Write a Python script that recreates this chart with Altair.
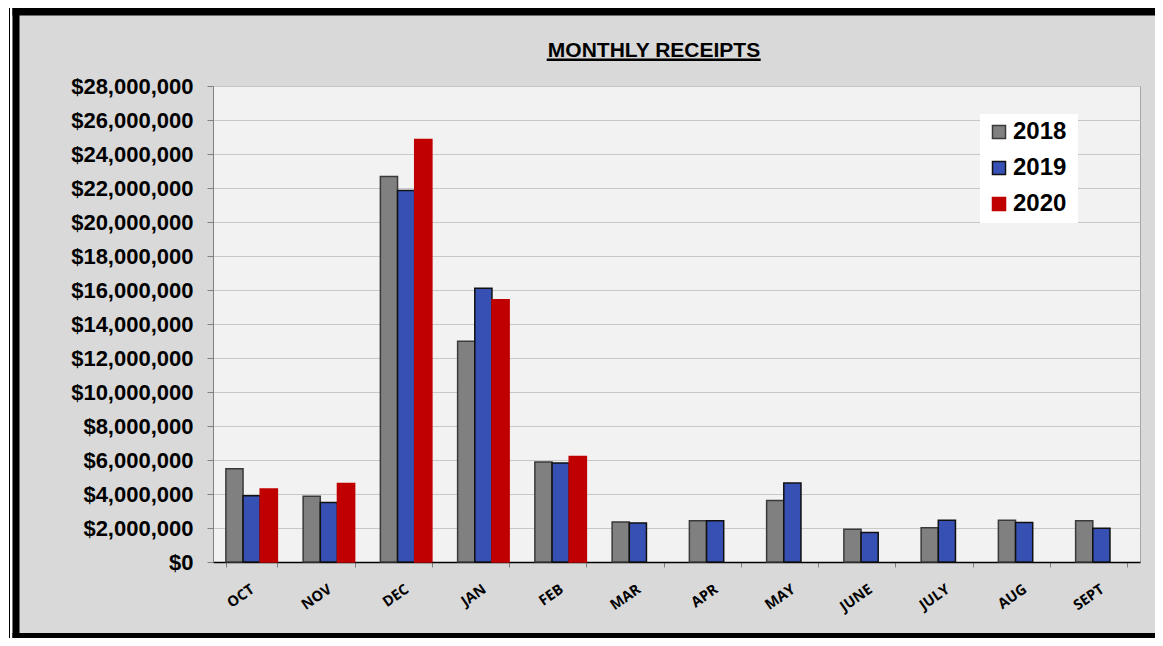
import altair as alt
import pandas as pd

months = ["OCT", "NOV", "DEC", "JAN", "FEB", "MAR", "APR", "MAY", "JUNE", "JULY", "AUG", "SEPT"]
years = ["2018", "2019", "2020"]
receipts_2018 = [5480000, 3870000, 22680000, 12990000, 5880000, 2360000, 2420000, 3620000, 1930000, 2020000, 2460000, 2420000]
receipts_2019 = [3890000, 3500000, 21850000, 16100000, 5820000, 2300000, 2420000, 4640000, 1730000, 2460000, 2320000, 1990000]
receipts_2020 = [4300000, 4620000, 24860000, 15430000, 6210000, None, None, None, None, None, None, None]
fill_colors = ["#808080", "#3650B4", "#C00000"]
stroke_colors = ["#3a3a3a", "#101010", "#C00000"]

rows = []
for yr, vals in zip(years, [receipts_2018, receipts_2019, receipts_2020]):
    for m, v in zip(months, vals):
        if v is not None:
            rows.append({"month": m, "year": yr, "value": v})
df = pd.DataFrame(rows)

W, H = 927, 476

legend_props = dict(
    orient="none", legendX=774, legendY=34, title=None, padding=0,
    symbolType="square", symbolSize=169, symbolStrokeWidth=1.5,
    labelFont="Liberation Sans", labelFontWeight="bold", labelFontSize=24,
    labelColor="black", labelOffset=2, rowPadding=12,
)

bars = alt.Chart(df).mark_bar(strokeWidth=1.5).encode(
    x=alt.X("month:N", sort=months,
            scale=alt.Scale(paddingInner=1/3, paddingOuter=1/6),
            axis=alt.Axis(title=None, labelAngle=-35, labelAlign="right", labelBaseline="top",
                          labelFont="Open Sans", labelFontWeight="bold", labelFontSize=14.5,
                          labelColor="black", tickBand="extent", tickColor="#808080",
                          tickSize=5, domainColor="black", domainWidth=1.5, labelPadding=15,
                          labelOffset=-3, grid=False)),
    xOffset=alt.XOffset("year:N", scale=alt.Scale(domain=years, paddingInner=0, paddingOuter=0)),
    y=alt.Y("value:Q", scale=alt.Scale(domain=[0, 28000000], nice=False),
            axis=alt.Axis(title=None, values=list(range(0, 28000001, 2000000)), format="$,.0f",
                          labelFont="Liberation Sans", labelFontWeight="bold", labelFontSize=22,
                          labelColor="black", tickColor="#808080", tickSize=6, labelPadding=14,
                          gridColor="#c8c8c8", gridWidth=1, domainColor="#808080")),
    fill=alt.Fill("year:N", scale=alt.Scale(domain=years, range=fill_colors),
                  legend=alt.Legend(**legend_props)),
    stroke=alt.Stroke("year:N", scale=alt.Scale(domain=years, range=stroke_colors),
                      legend=alt.Legend(**legend_props)),
)

base = alt.Chart(pd.DataFrame({"d": [0]}))


def deco_rect(x, x2, y, y2, color):
    return base.mark_rect(color=color).encode(
        x=alt.value(x), x2=alt.value(x2), y=alt.value(y), y2=alt.value(y2))


frame = [
    deco_rect(-205, -200.5, -78, 560, "white"),
    deco_rect(-204, -203, -78, 560, "black"),
    deco_rect(-200.5, -193.5, -78, 560, "black"),
    deco_rect(-200.5, 950, -78, -70.5, "black"),
    deco_rect(-200.5, 950, 547, 552, "black"),
    deco_rect(767, 865, 28, 137, "white"),
]

title = base.mark_text(text="MONTHLY RECEIPTS", font="Liberation Sans", fontWeight="bold",
                       fontSize=21, align="center", baseline="alphabetic", color="black").encode(
    x=alt.value(441), y=alt.value(-29.3))
underline = base.mark_rule(color="black", strokeWidth=2.5).encode(
    x=alt.value(333.7), x2=alt.value(547.7), y=alt.value(-26.3))

chart = alt.layer(*frame, bars, title, underline).properties(
    width=W, height=H,
    autosize=alt.AutoSizeParams(type="none"),
    padding={"left": 205, "top": 78, "right": 15, "bottom": 76},
    background="#d9d9d9",
).configure_view(fill="#f2f2f2", stroke="#a6a6a6", strokeWidth=1)

chart.save("out.html", embed_options={"renderer": "svg", "actions": False})
